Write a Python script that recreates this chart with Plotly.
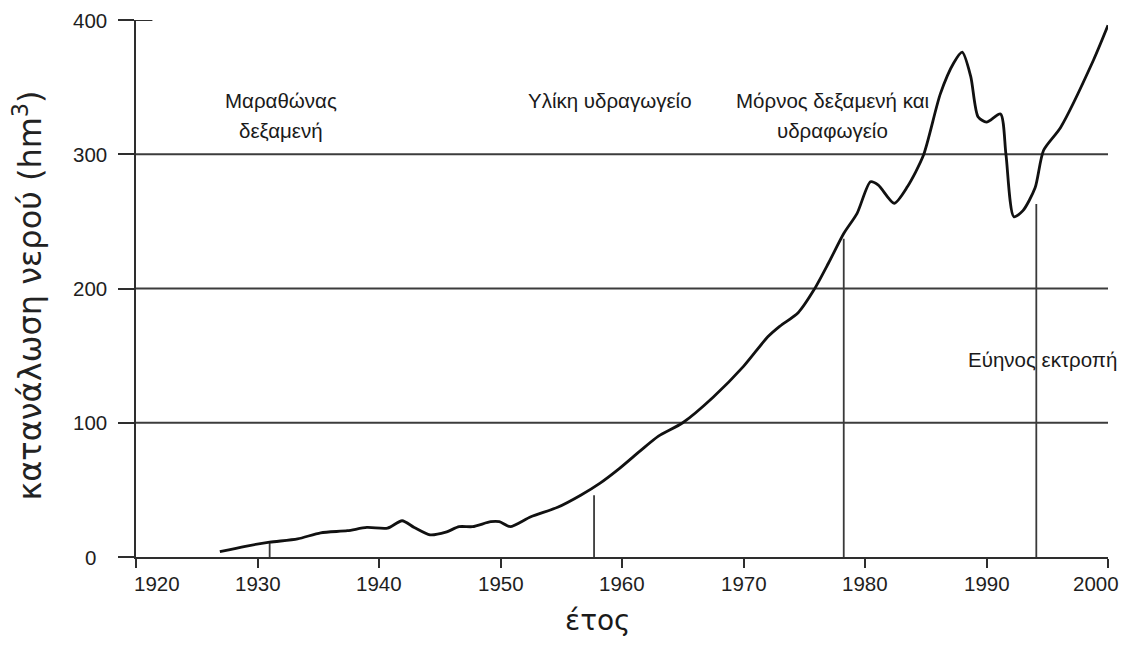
import plotly.graph_objects as go

# ---- data ----
years = [1926.9, 1929.0, 1931.0, 1933.3, 1935.2, 1937.4, 1939.0, 1940.7, 1941.9, 1942.9,
         1944.2, 1945.5, 1946.6, 1947.7, 1949.2, 1949.9, 1950.8, 1952.5, 1954.7, 1956.6,
         1958.2, 1959.8, 1961.5, 1963.0, 1965.0, 1967.5, 1970.0, 1972.0, 1973.0, 1974.5,
         1975.8, 1977.0, 1978.25, 1979.35, 1980.45, 1981.1, 1982.4, 1983.5, 1984.8, 1986.2,
         1987.3, 1988.0, 1988.7, 1989.3, 1990.0, 1991.15, 1991.6, 1992.25, 1993.0, 1994.0,
         1994.7, 1996.1, 1998.8, 2000.0]
consumption = [4, 8, 11, 13.5, 18, 19.6, 22, 21.5, 27, 22,
               16.5, 18.5, 22.6, 22.6, 26.3, 26.3, 22.6, 30, 37, 46,
               55, 66, 79, 90, 100, 119, 142, 164, 172, 182,
               199, 219, 241, 256, 279.5, 277, 263.5, 276, 299, 345,
               368, 376, 358, 328, 324, 330, 300, 253.5, 258, 275,
               303, 320, 370, 396]

event_years = [1931.0, 1957.7, 1978.25, 1994.1]
event_heights = [11, 46, 237, 263]

label_texts = ["Μαραθώνας", "δεξαμενή", "Υλίκη υδραγωγείο", "Μόρνος δεξαμενή και",
               "υδραφωγείο", "Εύηνος εκτροπή"]
label_x = [1931.9, 1931.9, 1959.0, 1977.3, 1977.3, 1994.6]
label_y = [340, 318, 340, 340, 318, 147]

x_ticks = [1920, 1930, 1940, 1950, 1960, 1970, 1980, 1990, 2000]
y_ticks = [0, 100, 200, 300, 400]
y_grid = [100, 200, 300]

x_title = "έτος"
y_title = "κατανάλωση νερού (hm<sup>3</sup>)"

LINE = "#2e2e2e"
TICKFONT = dict(family="Liberation Sans, Arial, sans-serif", size=20.5, color="#1e1e1e")
LABELFONT = dict(family="Liberation Sans, Arial, sans-serif", size=20.5, color="#1a1a1a")
TITLEFONT = "DejaVu Sans, Noto Sans, sans-serif"

fig = go.Figure()

# event markers (vertical lines from axis to their heights)
ex, ey = [], []
for yr, h in zip(event_years, event_heights):
    ex += [yr, yr, None]
    ey += [0, h, None]
fig.add_trace(go.Scatter(x=ex, y=ey, mode="lines",
                         line=dict(color="#3a3a3a", width=1.8),
                         hoverinfo="skip", showlegend=False))

# consumption curve
fig.add_trace(go.Scatter(x=years, y=consumption, mode="lines",
                         line=dict(color="#111111", width=2.8, shape="spline", smoothing=0.7),
                         showlegend=False, cliponaxis=False))

# horizontal grid lines
for g in y_grid:
    fig.add_shape(type="line", xref="x", yref="y", x0=x_ticks[0], x1=x_ticks[-1],
                  y0=g, y1=g, line=dict(color="#3c3c3c", width=2), layer="below")
# short inner tick at top value
fig.add_shape(type="line", xref="x", yref="y", x0=x_ticks[0], x1=x_ticks[0] + 1.35,
              y0=y_ticks[-1], y1=y_ticks[-1], line=dict(color=LINE, width=2))

# event / project labels
for t, lx, ly in zip(label_texts, label_x, label_y):
    fig.add_annotation(x=lx, y=ly, xref="x", yref="y", text=t, showarrow=False,
                       font=LABELFONT, xanchor="center", yanchor="middle")

# tick labels (x: centered under ticks, first starts at the corner, last kept inside)
n = len(x_ticks)
for i, v in enumerate(x_ticks):
    if i == 0:
        anchor, shift = "left", -4
    elif i == n - 1:
        anchor, shift = "right", 13
    else:
        anchor, shift = "center", 0
    fig.add_annotation(x=v, y=0, xref="x", yref="paper", text=str(v), showarrow=False,
                       font=TICKFONT, xanchor=anchor, yanchor="middle",
                       yshift=-26, xshift=shift)
for v in y_ticks:
    fig.add_annotation(x=0, y=v, xref="paper", yref="y", text=str(v), showarrow=False,
                       font=TICKFONT, xanchor="center", yanchor="middle", xshift=-46)

# axis titles
fig.add_annotation(x=1958.0, y=-0.118, xref="x", yref="paper", text=x_title,
                   showarrow=False, font=dict(family=TITLEFONT, size=28, color="#1a1a1a"),
                   xanchor="center", yanchor="middle")
fig.add_annotation(x=-0.111, y=0.487, xref="paper", yref="paper", text=y_title,
                   showarrow=False, textangle=-90,
                   font=dict(family=TITLEFONT, size=32, color="#222222"),
                   xanchor="center", yanchor="middle")

fig.update_xaxes(range=[x_ticks[0], x_ticks[-1]], tickvals=x_ticks, showticklabels=False,
                 showline=True, linecolor=LINE, linewidth=2.4,
                 ticks="outside", ticklen=9, tickwidth=2, tickcolor=LINE,
                 showgrid=False, zeroline=False, fixedrange=True)
fig.update_yaxes(range=[y_ticks[0], y_ticks[-1]], tickvals=y_ticks, showticklabels=False,
                 showline=True, linecolor=LINE, linewidth=2.4,
                 ticks="outside", ticklen=16, tickwidth=2, tickcolor=LINE,
                 showgrid=False, zeroline=False, fixedrange=True)

# page body has an 8px margin: keep the figure inside the 1132x647 window (no scrollbars)
fig.update_layout(width=1124, height=631,
                  margin=dict(l=128, r=24, t=12, b=82),
                  paper_bgcolor="white", plot_bgcolor="white",
                  showlegend=False)

fig.write_html("out.html")
